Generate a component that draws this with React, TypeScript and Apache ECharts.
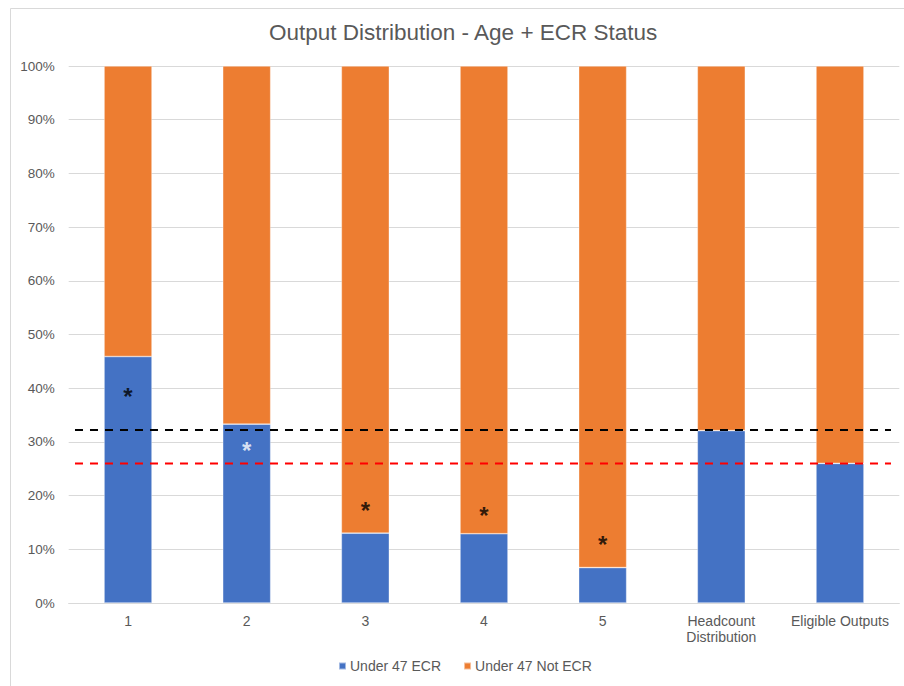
import React, { useEffect, useRef } from "react";
import * as echarts from "echarts";

const categories = ["1", "2", "3", "4", "5", "Headcount\nDistribution", "Eligible Outputs"];
const under47Ecr = [45.9, 33.3, 13.0, 12.9, 6.6, 32.1, 26.0];
const under47NotEcr = [54.1, 66.7, 87.0, 87.1, 93.4, 67.9, 74.0];
const yTicks = [0, 10, 20, 30, 40, 50, 60, 70, 80, 90, 100];
// asterisk markers: [category index, value, colour]
const asteriskPos = [0, 1, 2, 3, 4];
const asteriskVal = [39.1, 28.9, 17.7, 16.9, 11.5];
const asteriskColor = ["#000000", "#ffffff", "#000000", "#000000", "#000000"];
const headcountLine = 32.2;
const eligibleLine = 26.0;
const lineSpan = [-0.447, 6.43];

export default function App() {
  const ref = useRef<HTMLDivElement>(null);
  useEffect(() => {
    if (!ref.current) return;
    const chart = echarts.init(ref.current, null, { renderer: "svg" });
    const font = "'Liberation Sans', Arial, sans-serif";
    chart.setOption({
      animation: false,
      backgroundColor: "#ffffff",
      textStyle: { fontFamily: font },
      title: {
        text: "Output Distribution - Age + ECR Status",
        left: 264,
        top: 16,
        textStyle: { fontFamily: font, fontSize: 22.5, fontWeight: "normal", color: "#595959" },
      },
      graphic: [
        {
          type: "rect",
          shape: { x: 10.5, y: 8.5, width: 900, height: 700 },
          style: { fill: "none", stroke: "#d9d9d9", lineWidth: 1 },
          silent: true,
        },
      ],
      legend: {
        data: ["Under 47 ECR", "Under 47 Not ECR"],
        bottom: 8,
        left: 333,
        icon: "rect",
        itemWidth: 7,
        itemHeight: 7,
        itemGap: 22,
        textStyle: { fontFamily: font, fontSize: 14, color: "#595959", padding: [0, 0, 0, -1] },
      },
      grid: { left: 68.7, right: 4.7, top: 66, bottom: 83, containLabel: false },
      xAxis: [
        {
          type: "category",
          data: categories,
          axisLine: { show: true, lineStyle: { color: "#d9d9d9" } },
          axisTick: { show: false },
          axisLabel: { fontFamily: font, fontSize: 14, color: "#595959", margin: 10, lineHeight: 16, interval: 0 },
        },
        {
          type: "value",
          min: -0.5,
          max: 6.5,
          show: false,
        },
      ],
      yAxis: {
        type: "value",
        min: 0,
        max: 100,
        interval: 10,
        axisLine: { show: false },
        axisTick: { show: false },
        splitLine: { lineStyle: { color: "#d9d9d9", width: 1 } },
        axisLabel: {
          fontFamily: font,
          fontSize: 13.5,
          color: "#595959",
          margin: 14,
          formatter: (v: number) => (yTicks.includes(v) ? v + "%" : ""),
        },
      },
      series: [
        {
          name: "Under 47 ECR",
          type: "bar",
          stack: "total",
          data: under47Ecr,
          barWidth: 48,
          itemStyle: { color: "#4472C4", borderColor: "rgba(255,255,255,0.5)", borderWidth: 0.7 },
          z: 2,
        },
        {
          name: "Under 47 Not ECR",
          type: "bar",
          stack: "total",
          data: under47NotEcr,
          barWidth: 48,
          itemStyle: { color: "#ED7D31", borderColor: "rgba(255,255,255,0.5)", borderWidth: 0.7 },
          z: 2,
        },
        {
          name: "headcount",
          type: "line",
          xAxisIndex: 1,
          data: lineSpan.map((x) => [x, headcountLine]),
          symbol: "none",
          lineStyle: { color: "#000000", width: 2, type: [8, 7] },
          z: 5,
        },
        {
          name: "eligible",
          type: "line",
          xAxisIndex: 1,
          data: lineSpan.map((x) => [x, eligibleLine]),
          symbol: "none",
          lineStyle: { color: "#ff0000", width: 2, type: [8, 7] },
          z: 5,
        },
        {
          name: "asterisk",
          type: "scatter",
          xAxisIndex: 1,
          symbolSize: 0,
          data: asteriskPos.map((p, i) => ({
            value: [p, asteriskVal[i]],
            label: {
              show: true,
              formatter: "*",
              position: "inside",
              offset: [0, 3],
              fontFamily: font,
              fontSize: 24,
              fontWeight: "bold",
              color: asteriskColor[i],
            },
          })),
          z: 6,
        },
      ],
    });
    return () => chart.dispose();
  }, []);
  return (
    <div
      ref={ref}
      style={{ position: "fixed", left: 0, top: 0, width: 904, height: 686, background: "#fff" }}
    />
  );
}
